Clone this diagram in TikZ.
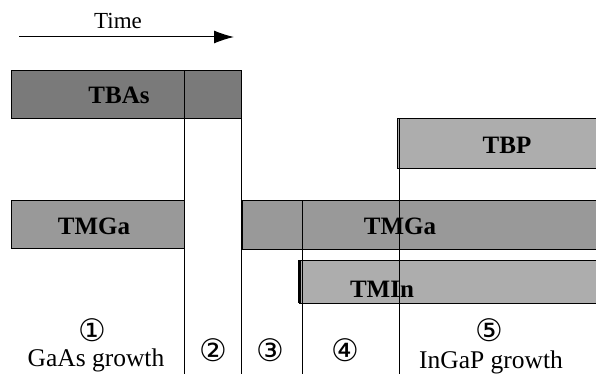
\documentclass[tikz,border=0pt]{standalone}
\usepackage{fontspec}
\setmainfont{Liberation Serif}
\newfontfamily\circfont{DejaVu Sans}
\usetikzlibrary{arrows.meta}
\begin{document}
\begin{tikzpicture}[x=1pt,y=-1pt,
  bar/.style={draw=black,line width=1pt},
  darkbar/.style={bar,fill=black!52},
  midbar/.style={bar,fill=black!40},
  lightbar/.style={bar,fill=black!32},
  barlabel/.style={font=\fontsize{25}{25}\selectfont\bfseries},
  phase/.style={line width=0.9pt},
  lab/.style={font=\fontsize{25.5}{25.5}\selectfont, inner sep=0pt},
  circ/.style={font=\circfont\fontsize{31}{31}\selectfont, inner sep=0pt}]
\useasboundingbox (0,0) rectangle (596,374);
% time arrow
\coordinate (ta) at (19,37);
\coordinate (tb) at (234,37);
\draw[line width=1pt,-{Latex[length=20pt,width=13pt]}] (ta) -- (tb);
\node[lab,font=\fontsize{23}{23}\selectfont] (time) at (118,21) {Time};
% bars
\path[darkbar] (11,71) rectangle (241,119);
\node[barlabel] (tbas) at (119,95) {TBAs};
\path[lightbar] (397,119) rectangle (600,168);
\node[barlabel] (tbp) at (507,145) {TBP};
\path[midbar] (11,200) rectangle (184,248);
\node[barlabel] (tmga1) at (94,226) {TMGa};
\path[midbar] (242,200) rectangle (600,249);
\node[barlabel] (tmga2) at (400,226) {TMGa};
\path[lightbar] (299,260) rectangle (600,303);
\draw[line width=2.5pt] (299.5,260) -- (299.5,303);
\node[barlabel] (tmin) at (382,289) {TMIn};
% phase lines
\coordinate (l1t) at (184,71);  \coordinate (l1b) at (184,374);
\coordinate (l2t) at (241,71);  \coordinate (l2b) at (241,374);
\coordinate (l3t) at (302,200); \coordinate (l3b) at (302,374);
\coordinate (l4t) at (399,119); \coordinate (l4b) at (399,374);
\draw[phase] (l1t) -- (l1b);
\draw[phase] (l2t) -- (l2b);
\draw[phase] (l3t) -- (l3b);
\draw[phase] (l4t) -- (l4b);
% labels
\node[circ] (c1) at (92,330) {①};
\node[lab] (g1) at (96,360) {GaAs growth};
\node[circ] (c2) at (213,350) {②};
\node[circ] (c3) at (270,350) {③};
\node[circ] (c4) at (345,350) {④};
\node[circ] (c5) at (489,330) {⑤};
\node[lab] (g2) at (491,362) {InGaP growth};
\end{tikzpicture}
\end{document}
